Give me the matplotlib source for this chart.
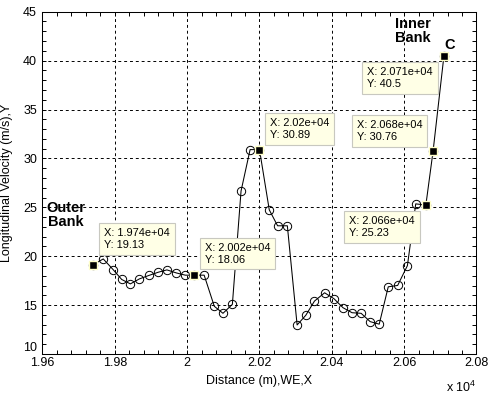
import numpy as np
import matplotlib
matplotlib.use('Agg')
import matplotlib.pyplot as plt
from matplotlib.ticker import MultipleLocator, FuncFormatter

plt.rcParams['font.family'] = ['Liberation Sans', 'DejaVu Sans']
plt.rcParams['mathtext.default'] = 'regular'

# distance (m) and longitudinal velocity (m/s)
dist = [19740, 19768, 19795, 19819, 19843, 19868, 19894, 19920, 19944, 19970,
        19995, 20020, 20047, 20075, 20099, 20125, 20149, 20174, 20200, 20227,
        20250, 20277, 20304, 20328, 20352, 20380, 20406, 20431, 20456, 20481,
        20506, 20531, 20556, 20582, 20609, 20632, 20660, 20680, 20710]
vel = [19.13, 19.72, 18.64, 17.62, 17.17, 17.68, 18.03, 18.36, 18.60, 18.29,
       18.06, 18.06, 18.06, 14.88, 14.16, 15.08, 26.67, 30.90, 30.89, 24.74,
       23.11, 23.11, 12.97, 13.96, 15.41, 16.26, 15.65, 14.73, 14.22, 14.16,
       13.31, 13.05, 16.87, 17.01, 19.04, 25.35, 25.23, 30.76, 40.5]

# data tips: point index, box offset in px (dx, dy), side
tip_idx = [0, 11, 18, 36, 37, 38]
tip_off = [(6, 9.5, 'ur'), (5.6, 5.7, 'ur'), (5.3, 5, 'ur'),
           (-6, -6, 'll'), (-5.7, 4.3, 'ul'), (-6, -6, 'll')]

fig = plt.figure(figsize=(4.89, 3.94), dpi=100)
ax = fig.add_axes([42.5/489, 1-354/394, 434/489, 342.3/394])

ax.plot(dist, vel, '-', color='k', lw=0.75, marker='o', ms=6, mfc='none', mec='k', mew=0.7)

fs_tip = 7.9
pad = 0.45
pad_px = pad * fs_tip * 100 / 72
for i, (dx, dy, side) in zip(tip_idx, tip_off):
    xv, yv = dist[i], vel[i]
    ax.plot(xv, yv, 's', ms=5.5, mfc='k', mec='#FFFFC8', mew=1, zorder=5)
    ha = 'left' if side[1] == 'r' else 'right'
    va = 'bottom' if side[0] == 'u' else 'top'
    tx = dx + (pad_px if ha == 'left' else -pad_px)
    ty = dy + (pad_px if va == 'bottom' else -pad_px)
    ax.annotate('X: %.4g\nY: %.4g' % (xv, yv), (xv, yv),
                xytext=(tx*0.72, ty*0.72), textcoords='offset points',
                ha=ha, va=va, multialignment='left', fontsize=fs_tip, linespacing=1.25,
                bbox=dict(boxstyle='square,pad=%g' % pad, fc='#FFFFE6', ec='#C8C8C0', lw=0.8),
                zorder=6)

ax.text(19664, 24.2, 'Outer\nBank', ha='center', va='center', fontsize=10.5, fontweight='bold', linespacing=1.0)
ax.text(20624, 43.0, 'Inner\nBank', ha='center', va='center', fontsize=10.5, fontweight='bold', linespacing=1.0)
ax.text(20725, 41.6, 'C', ha='center', va='center', fontsize=10.5, fontweight='bold')

ax.set_xlim(19600, 20800)
ax.set_ylim(10, 45)
ax.xaxis.set_major_locator(MultipleLocator(200))
ax.xaxis.set_minor_locator(MultipleLocator(40))
ax.yaxis.set_major_locator(MultipleLocator(5))
ax.yaxis.set_minor_locator(MultipleLocator(1))
ax.xaxis.set_major_formatter(FuncFormatter(lambda v, p: '%g' % round(v/1e4, 4)))

ax.grid(True, which='major', color='k', lw=0.7, ls=(0, (3, 3)))
ax.tick_params(which='both', direction='in', top=True, right=True, labelsize=9, width=0.7)
ax.tick_params(which='major', length=3.2)
ax.tick_params(which='minor', length=3.0)
ax.tick_params(axis='x', pad=2.5)
ax.tick_params(axis='y', pad=4)
for s in ax.spines.values():
    s.set_linewidth(0.75)

# lift the bottom "10" label off the x tick labels, as in the original
ylocs = list(ax.yaxis.get_majorticklocs())
yticks = ax.yaxis.get_major_ticks(len(ylocs))
for loc, t in zip(ylocs, yticks):
    if abs(loc - 10) < 1e-9:
        t.label1.set_verticalalignment('bottom')

ax.set_xlabel('Distance (m),WE,X', fontsize=9)
ax.xaxis.set_label_coords(0.5, -0.06)
ax.xaxis.label.set_va('top')
ax.set_ylabel('Longitudinal Velocity (m/s),Y', fontsize=9)
ax.yaxis.set_label_coords(-0.068, 0.5)

fig.text(476/489, 2/394, 'x 10$^{4}$', ha='right', va='baseline', fontsize=9)

fig.savefig('out.png', dpi=100)
